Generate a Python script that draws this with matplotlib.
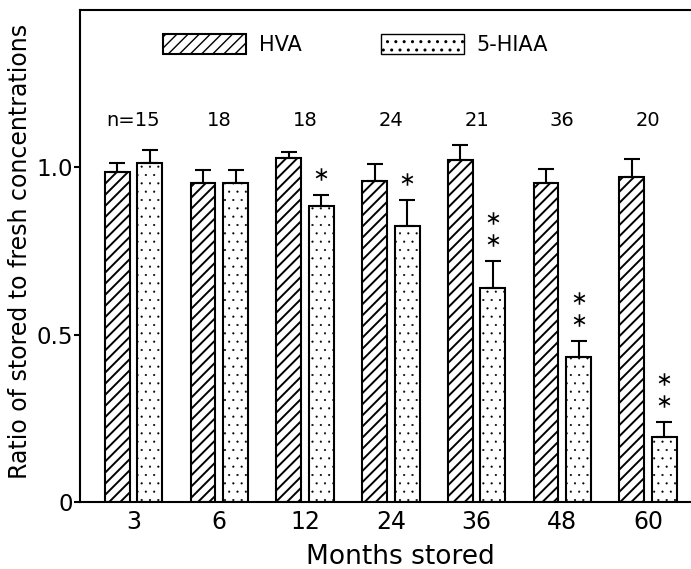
import matplotlib
matplotlib.use("Agg")
import matplotlib.pyplot as plt
from matplotlib.patches import Patch
import numpy as np

# data
months = ["3", "6", "12", "24", "36", "48", "60"]
n_labels = ["n=15", "18", "18", "24", "21", "36", "20"]
hva_mean = [0.985, 0.951, 1.026, 0.958, 1.021, 0.951, 0.971]
hva_sem = [0.028, 0.040, 0.018, 0.051, 0.045, 0.044, 0.052]
hiaa_mean = [1.013, 0.951, 0.885, 0.825, 0.638, 0.433, 0.194]
hiaa_sem = [0.037, 0.040, 0.032, 0.076, 0.082, 0.047, 0.045]
hiaa_stars = [0, 0, 1, 1, 2, 2, 2]

plt.rcParams["font.family"] = ["DejaVu Sans"]
plt.rcParams["hatch.color"] = "black"

FS = 16.5
x = np.arange(len(months))
width = 0.29
offset = 0.19

fig = plt.figure(figsize=(6.91, 5.69), dpi=100)
ax = fig.add_axes([80 / 691, 67 / 569, 611 / 691, 492 / 569])

err_kw = dict(ecolor="black", elinewidth=1.5, capsize=6, capthick=1.5)

with plt.rc_context({"hatch.linewidth": 1.4}):
    hva_bars = ax.bar(x - offset, hva_mean, width, color="white", edgecolor="black",
                      linewidth=1.5, hatch="///",
                      yerr=[np.zeros(len(x)), hva_sem], error_kw=err_kw, zorder=2)
with plt.rc_context({"hatch.linewidth": 0.3}):
    hiaa_bars = ax.bar(x + offset, hiaa_mean, width, color="white", edgecolor="black",
                       linewidth=1.5, hatch="..",
                       yerr=[np.zeros(len(x)), hiaa_sem], error_kw=err_kw, zorder=2)

# significance stars above the 5-HIAA error bars
for i, n in enumerate(hiaa_stars):
    top = hiaa_mean[i] + hiaa_sem[i]
    for k in range(n):
        ax.plot(x[i] + offset, top + 0.063 + 0.066 * k, marker=r"$\ast$",
                markersize=9, color="black", markeredgewidth=0)

# group sizes
for i, lab in enumerate(n_labels):
    ax.text(x[i], 1.14, lab, ha="center", va="center", fontsize=14)

ax.set_xlim(-0.624, 6.50)
ax.set_ylim(0, 1.469)
ax.set_xticks(x)
ax.set_xticklabels(months, fontsize=17)
ax.tick_params(axis="x", length=0, pad=6)
ax.set_yticks([0, 0.5, 1.0])
ax.set_yticklabels(["0", "0.5", "1.0"], fontsize=FS)
ax.tick_params(axis="y", direction="out", length=4, width=1.5, pad=1)
ax.spines["right"].set_visible(False)
for s in ["left", "top", "bottom"]:
    ax.spines[s].set_linewidth(1.5)

ax.set_xlabel("Months stored", fontsize=19)
ax.xaxis.set_label_coords(0.524, -0.085)
ax.set_ylabel("Ratio of stored to fresh concentrations", fontsize=17)
ax.yaxis.set_label_coords(-0.078, 0.51)

handles = [
    Patch(facecolor="white", edgecolor="black", hatch="///", linewidth=1.5, label="HVA"),
    Patch(facecolor="white", edgecolor="black", hatch="..", linewidth=1.0, label="5-HIAA"),
]
ax.legend(handles=handles, loc="center left", bbox_to_anchor=(0.136, 0.929),
          ncol=2, frameon=False, fontsize=15, borderpad=0, borderaxespad=0,
          handlelength=4.0, handleheight=1.1, handletextpad=0.6, columnspacing=3.8)

fig.savefig("out.png", dpi=100)
